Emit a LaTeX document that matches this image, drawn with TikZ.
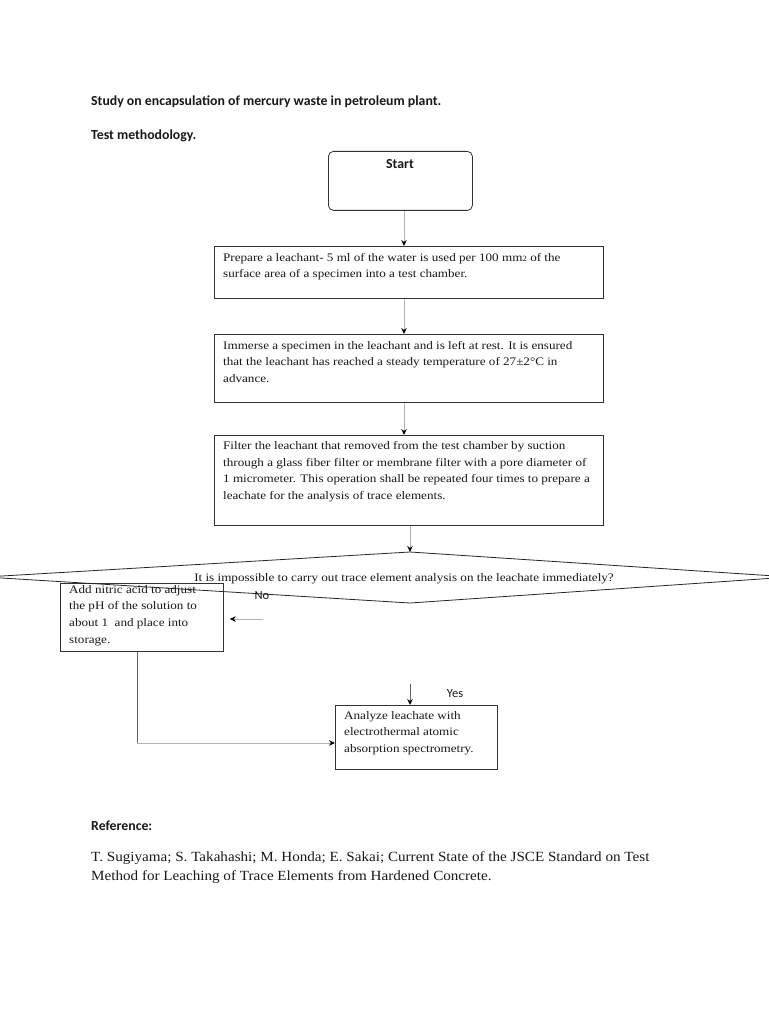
\documentclass[tikz,border=0pt]{standalone}
\usepackage{fontspec}
\setmainfont{Liberation Serif}
\newfontfamily\calfont{Carlito}
\newfontfamily\boxfont[FakeStretch=1.14]{Liberation Serif}
\newfontfamily\reffont[FakeStretch=1.08]{Liberation Serif}
\usetikzlibrary{arrows.meta}
\begin{document}
\begin{tikzpicture}[x=1pt,y=-1pt,
  box/.style={draw=black!80, line width=0.8pt, anchor=north west, inner sep=0pt},
  btxt/.style={anchor=north west, inner sep=0pt, align=left, text=black!90,
    font=\boxfont\fontsize{11.5}{16.7}\selectfont},
  head/.style={anchor=west, inner sep=0pt, font=\calfont\bfseries\fontsize{13.8}{16}\selectfont, text=black!90},
  lbl/.style={inner sep=0pt, font=\calfont\fontsize{12.5}{15}\selectfont, text=black!90},
  tip/.style={-{Stealth[black,length=6pt,width=5.5pt]}},
  conn/.style={draw=black!30, line width=0.9pt, tip},
  dconn/.style={draw=black!60, line width=0.9pt, tip},
]
\useasboundingbox[fill=white] (0,0) rectangle (768,1024);

% headings
\node[head] (title) at (91,102) {Study on encapsulation of mercury waste in petroleum plant.};
\node[head] (tm) at (91,136) {Test methodology.};

% start
\node[box, rounded corners=5pt, minimum width=144, minimum height=59] (start) at (328,151) {};
\node[inner sep=0pt, font=\calfont\bfseries\fontsize{13.8}{16}\selectfont, text=black!90] (starttxt) at (400,164) {Start};

% boxes
\node[box, minimum width=389, minimum height=52] (b1) at (214,246) {};
\node[btxt] (t1) at (223,253) {Prepare a leachant- 5 ml of the water is used per 100 mm\raisebox{-0.5pt}{\fontsize{8}{8}\selectfont 2} of the\\surface area of a specimen into a test chamber.};

\node[box, minimum width=389, minimum height=68] (b2) at (214,334) {};
\node[btxt] (t2) at (223,341) {Immerse a specimen in the leachant and is left at rest. It is ensured\\that the leachant has reached a steady temperature of 27±2°C in\\advance.};

\node[box, minimum width=389, minimum height=90] (b3) at (214,435) {};
\node[btxt] (t3) at (223,441) {Filter the leachant that removed from the test chamber by suction\\through a glass fiber filter or membrane filter with a pore diameter of\\1 micrometer. This operation shall be repeated four times to prepare a\\leachate for the analysis of trace elements.};

% nitric box (drawn before the decision so its edge crosses it)
\node[box, minimum width=163, minimum height=68] (nit) at (60,583) {};
\node[btxt] (tn) at (69,585) {Add nitric acid to adjust\\the pH of the solution to\\about 1\ \ and place into\\storage.};

% decision
\coordinate (dtop) at (410,552);
\coordinate (dbot) at (410,603);
\coordinate (dl) at (-15,577);
\coordinate (dr) at (790,577);
\draw[black!85, line width=0.8pt] (dtop) -- (dr) -- (dbot) -- (dl) -- cycle;
\node[inner sep=0pt, font=\boxfont\fontsize{11.5}{14}\selectfont, text=black!90] (q) at (404,579) {It is impossible to carry out trace element analysis on the leachate immediately?};
\node[lbl] (no) at (262,596) {No};

% analyze box
\node[box, minimum width=162, minimum height=64] (an) at (335,705) {};
\node[btxt] (ta) at (344,711) {Analyze leachate with\\electrothermal atomic\\absorption spectrometry.};
\node[lbl] (yes) at (455,694) {Yes};

% connectors
\coordinate (ax) at (404,0);
\coordinate (bx) at (410,0);
\draw[conn] (start.south -| ax) -- (b1.north -| ax);
\draw[conn] (b1.south -| ax) -- (b2.north -| ax);
\draw[conn] (b2.south -| ax) -- (b3.north -| ax);
\draw[conn] (b3.south -| bx) -- (dtop);

\coordinate (nos) at (263,619);
\draw[conn] (nos) -- ([xshift=6pt]nit.east |- nos);

\coordinate (ys) at (410,684);
\draw[dconn] (ys) -- (an.north -| ys);

\coordinate (lx) at (137,743);
\draw[draw=black!60, line width=0.9pt] (nit.south -| lx) -- (lx);
\draw[conn] (lx) -- (an.west |- lx);

% reference
\node[head] (refh) at (91,826) {Reference:};
\node[anchor=north west, inner sep=0pt, align=left, text=black!90, font=\reffont\fontsize{14}{19}\selectfont] (ref) at (91,851) {T. Sugiyama; S. Takahashi; M. Honda; E. Sakai; Current State of the JSCE Standard on Test\\Method for Leaching of Trace Elements from Hardened Concrete.};
\end{tikzpicture}
\end{document}
